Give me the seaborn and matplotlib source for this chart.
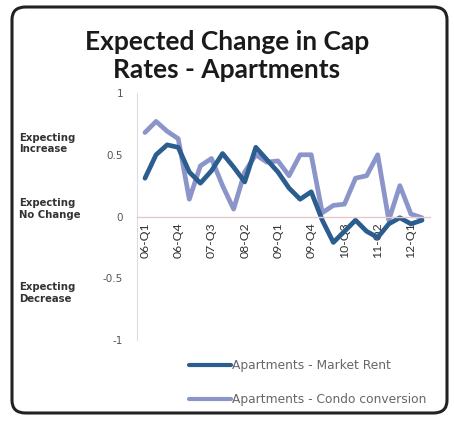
import matplotlib
matplotlib.use("Agg")
import matplotlib.pyplot as plt
from matplotlib.patches import FancyBboxPatch
import seaborn as sns
import pandas as pd

quarters = ["06-Q1", "06-Q2", "06-Q3", "06-Q4", "07-Q1", "07-Q2", "07-Q3", "07-Q4",
            "08-Q1", "08-Q2", "08-Q3", "08-Q4", "09-Q1", "09-Q2", "09-Q3", "09-Q4",
            "10-Q1", "10-Q2", "10-Q3", "10-Q4", "11-Q1", "11-Q2", "11-Q3", "11-Q4",
            "12-Q1", "12-Q2"]
market_rent = [0.31, 0.50, 0.58, 0.56, 0.36, 0.27, 0.37, 0.51, 0.40, 0.28, 0.56, 0.46,
               0.36, 0.23, 0.14, 0.20, -0.03, -0.21, -0.12, -0.03, -0.12, -0.17, -0.06,
               -0.01, -0.06, -0.03]
condo_conversion = [0.68, 0.77, 0.69, 0.63, 0.14, 0.41, 0.47, 0.25, 0.06, 0.36, 0.50,
                    0.44, 0.45, 0.33, 0.50, 0.50, 0.03, 0.09, 0.10, 0.31, 0.33, 0.50,
                    -0.03, 0.25, 0.02, -0.01]
series_names = ["Apartments - Market Rent", "Apartments - Condo conversion"]
y_ticks = [1, 0.5, 0, -0.5, -1]
y_tick_labels = ["1", "0.5", "0", "-0.5", "-1"]
side_labels = ["Expecting\nIncrease", "Expecting\nNo Change", "Expecting\nDecrease"]
side_label_values = [0.59, 0.06, -0.62]

df = pd.DataFrame({
    "idx": list(range(len(quarters))) * 2,
    "value": market_rent + condo_conversion,
    "series": [series_names[0]] * len(quarters) + [series_names[1]] * len(quarters),
})

sns.set_theme(style="white")
plt.rcParams["font.family"] = ["Lato", "DejaVu Sans"]
small_font = ["DejaVu Sans"]

W, H = 454, 421
fig = plt.figure(figsize=(W / 100, H / 100), dpi=100)
ax = fig.add_axes([137 / W, 1 - 340 / H, (430 - 137) / W, (340 - 93) / H])

palette = {series_names[0]: "#2c5d8f", series_names[1]: "#8b95c9"}
sns.lineplot(data=df, x="idx", y="value", hue="series", palette=palette,
             hue_order=[series_names[1], series_names[0]],
             linewidth=3.4, ax=ax, legend=False, sort=False)

ax.set_xlim(-0.72, len(quarters) - 1 + 0.72)
ax.set_ylim(-1, 1)
ax.set_xlabel("")
ax.set_ylabel("")

tick_idx = list(range(0, len(quarters), 3))
ax.set_xticks(tick_idx)
ax.set_xticklabels([quarters[i] for i in tick_idx])
ax.set_yticks(y_ticks)
ax.set_yticklabels(y_tick_labels)
ax.tick_params(axis="x", length=0, pad=4, labelrotation=90,
               labelsize=8.8, labelcolor="#333333")
ax.tick_params(axis="y", length=0, pad=10, labelsize=7.5, labelcolor="#555555")
for lbl in ax.get_xticklabels():
    lbl.set_family(small_font)
    lbl.set_fontweight("bold")
    lbl.set_rotation(90)
    lbl.set_va("top")
    lbl.set_ha("center")
for lbl in ax.get_yticklabels():
    lbl.set_family(small_font)

for side in ["top", "right"]:
    ax.spines[side].set_visible(False)
ax.spines["bottom"].set_position(("data", 0))
ax.spines["bottom"].set_color("#e6c8c8")
ax.spines["bottom"].set_linewidth(1.0)
ax.spines["left"].set_color("#dddddd")
ax.spines["left"].set_linewidth(0.8)

for txt, v in zip(side_labels, side_label_values):
    y_fig = ax.transData.transform((0, v))[1] / H
    fig.text(19 / W, y_fig, txt, fontsize=7.3, fontweight="bold", family=small_font,
             color="#333333", va="center", ha="left", linespacing=1.15)

fig.text(0.5, 1 - 56 / H, "Expected Change in Cap\nRates - Apartments",
         ha="center", va="center", fontsize=19, fontweight="bold",
         color="#1a1a1a", linespacing=1.25)

handles = [plt.Line2D([], [], color=palette[n], lw=3) for n in series_names]
fig.legend(handles, series_names, loc="upper left",
           bbox_to_anchor=(178 / W, 1 - 348 / H), frameon=False,
           prop={"family": small_font, "size": 8.8}, labelcolor="#666666",
           handlelength=3.4, handletextpad=0.1, labelspacing=1.7)

border = FancyBboxPatch((12 / W, 8 / H), (447 - 12) / W, (414 - 8) / H,
                        boxstyle="round,pad=0,rounding_size=0.03",
                        transform=fig.transFigure, fill=False,
                        edgecolor="#222222", linewidth=2.2)
fig.patches.append(border)

fig.savefig("out.png", dpi=100)
